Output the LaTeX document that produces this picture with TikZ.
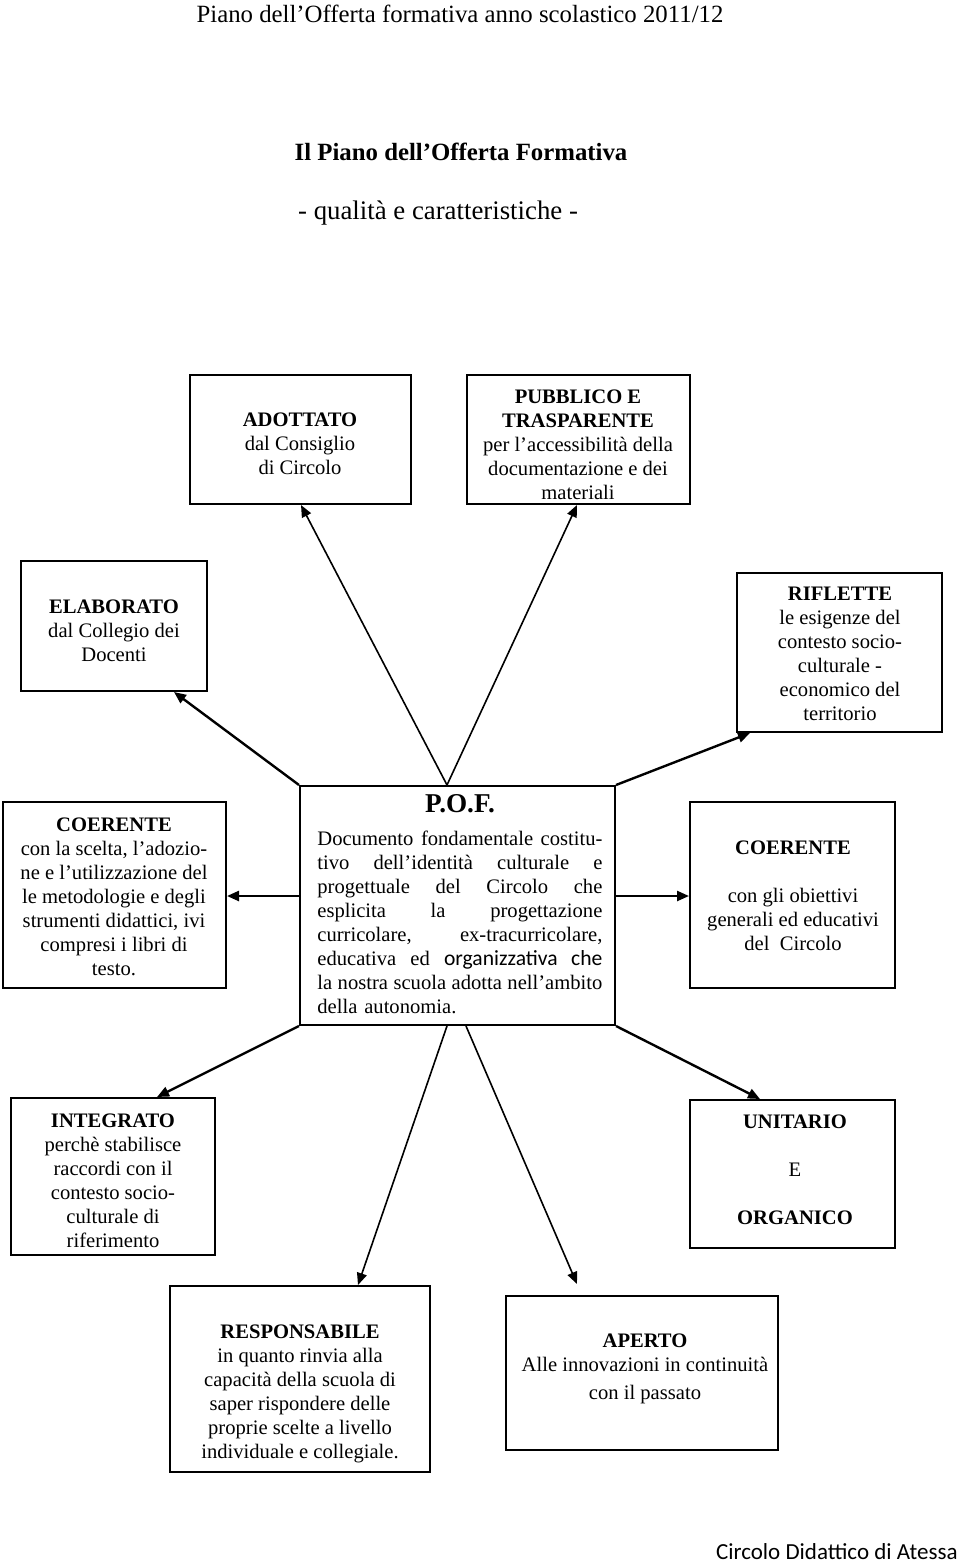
\documentclass[tikz,border=0pt]{standalone}
\usepackage{fontspec}
\setmainfont{Liberation Serif}
\newfontfamily\calib{Carlito}
\usetikzlibrary{arrows.meta,fit,calc}
\newcommand{\jline}[1]{\makebox[142.5pt][s]{\spaceskip=0pt\xspaceskip=0pt #1}}
\tikzset{
  box/.style={draw, line width=1pt, inner sep=0pt},
  txt/.style={inner sep=0pt, align=center, font=\fontsize{10.3}{12}\selectfont},
  thick arrow/.style={line width=1.2pt, -{Triangle[length=6pt,width=5pt]}},
  thin arrow/.style={line width=0.8pt, -{Triangle[length=6pt,width=5pt]}},
}
\begin{document}
\begin{tikzpicture}[x=0.5pt,y=-0.5pt]
\useasboundingbox (0,0) rectangle (960,1563);
% header / titles
\node[inner sep=0, font=\fontsize{12.4}{14}\selectfont] (hdr) at (460,14) {Piano dell’Offerta formativa anno scolastico 2011/12};
\node[inner sep=0, font=\fontsize{12.4}{14}\selectfont\bfseries] (ttl) at (461,152) {Il Piano dell’Offerta Formativa};
\node[inner sep=0, font=\fontsize{13.4}{15}\selectfont] (sub) at (438,213) {- qualità e caratteristiche -};
\node[inner sep=0, font=\fontsize{11.5}{13}\selectfont\calib, anchor=east] (ftr) at (958,1552) {Circolo Didattico di Atessa};
% boxes
\node[box, fit={(190,375)(411,504)}] (adottato) {};
\node[box, fit={(467,375)(690,504)}] (pubblico) {};
\node[box, fit={(21,561)(207,691)}] (elaborato) {};
\node[box, fit={(737,573)(942,732)}] (riflette) {};
\node[box, fit={(3,802)(226,988)}] (coerL) {};
\node[box, fit={(300,786)(615,1025)}] (pof) {};
\node[box, fit={(690,802)(895,988)}] (coerR) {};
\node[box, fit={(11,1098)(215,1255)}] (integrato) {};
\node[box, fit={(690,1100)(895,1248)}] (unitario) {};
\node[box, fit={(170,1286)(430,1472)}] (responsabile) {};
\node[box, fit={(506,1296)(778,1450)}] (aperto) {};
% texts
\node[txt, anchor=north] (t1) at (300,412) {\textbf{ADOTTATO}\\dal Consiglio\\di Circolo};
\node[txt, anchor=north] (t2) at (578,389) {\textbf{PUBBLICO E}\\\textbf{TRASPARENTE}\\per l’accessibilità della\\documentazione e dei\\materiali};
\node[txt, anchor=north] (t3) at (114,599) {\textbf{ELABORATO}\\dal Collegio dei\\Docenti};
\node[txt, anchor=north] (t4) at (840,587) {\textbf{RIFLETTE}\\le esigenze del\\contesto socio-\\culturale -\\economico del\\territorio};
\node[txt, anchor=north] (t5) at (114,817) {\textbf{COERENTE}\\con la scelta, l’adozio-\\ne e l’utilizzazione del\\le metodologie e degli\\strumenti didattici, ivi\\compresi i libri di\\testo.};
\node[txt, anchor=north] (t6) at (793,840) {\textbf{COERENTE}\\[12pt]con gli obiettivi\\generali ed educativi\\del\ \ Circolo};
\node[txt, anchor=north, font=\fontsize{13.6}{15}\selectfont\bfseries] (t7) at (460,794) {P.O.F.};
\node[txt, anchor=north west, align=left, text width=142.5pt] (t8) at (317,831) {%
\jline{Documento fondamentale costitu-}\\
\jline{tivo dell’identità culturale e}\\
\jline{progettuale del Circolo che}\\
\jline{esplicita la progettazione}\\
\jline{curricolare, ex-tracurricolare,}\\
\jline{educativa ed {\calib\fontsize{10.8}{12}\selectfont organizzativa che}}\\
\jline{la nostra scuola adotta nell’ambito}\\
della autonomia.};
\node[txt, anchor=north] (t9) at (113,1113) {\textbf{INTEGRATO}\\perchè stabilisce\\raccordi con il\\contesto socio-\\culturale di\\riferimento};
\node[txt, anchor=north] (t10) at (795,1114) {\textbf{UNITARIO}\\[12pt]E\\[12pt]\textbf{ORGANICO}};
\node[txt, anchor=north] (t11) at (300,1324) {\textbf{RESPONSABILE}\\in quanto rinvia alla\\capacità della scuola di\\saper rispondere delle\\proprie scelte a livello\\individuale e collegiale.};
\node[txt, anchor=north] (t12) at (645,1333) {\textbf{APERTO}\\Alle innovazioni in continuità\\[2pt]con il passato};
% connectors
\draw[thin arrow] ($(pof.north west)+(148,0)$) -- ($(adottato.south west)+(112,0)$);
\draw[thin arrow] ($(pof.north west)+(148,0)$) -- ($(pubblico.south west)+(111,0)$);
\draw[thick arrow] (pof.north west) -- ($(elaborato.south west)+(154,0)$);
\draw[thick arrow] (pof.north east) -- ($(riflette.south west)+(14,0)$);
\draw[thick arrow] ($(pof.north west)+(0,111)$) -- ($(coerL.north east)+(0,95)$);
\draw[thick arrow] ($(pof.north east)+(0,111)$) -- ($(coerR.north west)+(0,95)$);
\draw[thick arrow] (pof.south west) -- ($(integrato.north west)+(147,0)$);
\draw[thick arrow] (pof.south east) -- ($(unitario.north west)+(71,0)$);
\draw[thin arrow] ($(pof.south west)+(148,0)$) -- ($(responsabile.north west)+(189,0)$);
\draw[thin arrow] ($(pof.south west)+(167,0)$) -- ($(aperto.north west)+(72,-11)$);
\end{tikzpicture}
\end{document}
